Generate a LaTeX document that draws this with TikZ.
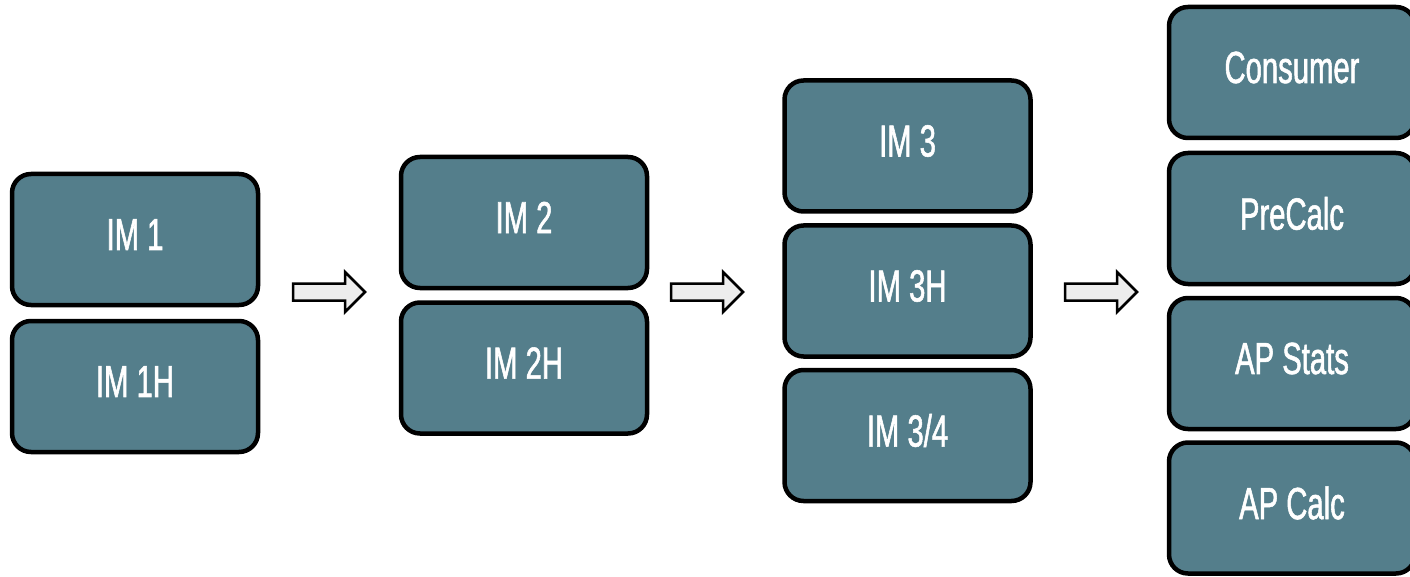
\documentclass[tikz,border=0pt]{standalone}
\usepackage{fontspec}
\setmainfont{Liberation Sans}[FakeStretch=0.65,FakeBold=1.2]
\definecolor{boxfill}{HTML}{547E8B}
\definecolor{arrowfill}{HTML}{EDEDED}
\tikzset{
  course/.style={draw=black, line width=4.5, fill=boxfill, rounded corners=19,
    minimum width=246, minimum height=131, inner sep=0, text=white,
    font=\fontsize{45}{48}\selectfont},
  label/.style={text=white, font=\fontsize{45}{48}\selectfont, inner sep=0},
  blockarrow/.style={draw=black, line width=2.5, fill=arrowfill, line join=miter},
  pics/barrow/.style={code={
    \path[blockarrow] (-36,-8.5) -- (16,-8.5) -- (16,-20) -- (36,0) -- (16,20) -- (16,8.5) -- (-36,8.5) -- cycle;
  }}
}
\newcommand{\course}[3]{%
  \node[course] (#1) at #2 {};
  \node[label] (#1-t) at ([yshift=5]#1.center) {#3};
}
\begin{document}
\begin{tikzpicture}[x=1pt,y=-1pt]
\useasboundingbox (0,0) rectangle (1410,577);
\clip (0,0) rectangle (1410,577);
\course{im1}{(135,239.5)}{IM 1}
\course{im1h}{(135,386.5)}{IM 1H}
\course{im2}{(524,222.5)}{IM 2}
\course{im2h}{(524,368)}{IM 2H}
\course{im3}{(907.5,146)}{IM 3}
\course{im3h}{(907.5,291)}{IM 3H}
\course{im34}{(907.5,435.5)}{IM 3/4}
\course{cons}{(1292,72.5)}{Consumer}
\course{prec}{(1292,218.5)}{PreCalc}
\course{aps}{(1292,363.5)}{AP Stats}
\course{apc}{(1292,508)}{AP Calc}
\pic at (329,292) {barrow};
\pic at (707,292) {barrow};
\pic at (1101,292) {barrow};
\end{tikzpicture}
\end{document}
